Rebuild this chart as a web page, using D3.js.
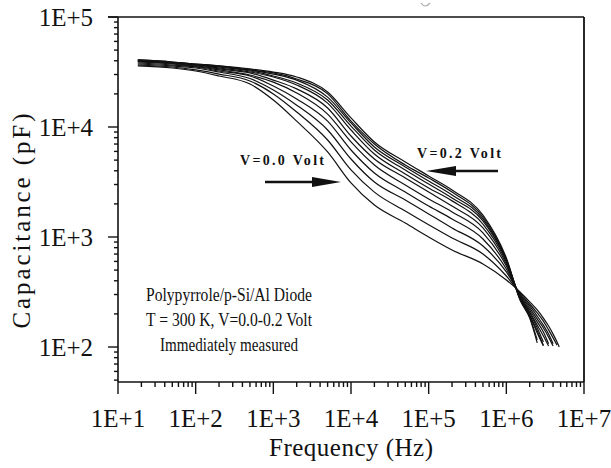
<!DOCTYPE html>
<html><head><meta charset="utf-8">
<script src="https://cdn.jsdelivr.net/npm/d3@7"></script>
<style>html,body{margin:0;padding:0;background:#fff;}svg{display:block;}</style>
</head><body>
<svg id="chart" width="611" height="468"></svg>
<script>
// ---- data ----
const freqHz = [18, 50, 100, 200, 500, 1e3, 2e3, 5e3, 1e4, 2e4, 5e4, 1e5, 2e5, 5e5, 1e6, 1.5e6, 2e6, 2.5e6, 3e6, 3.5e6, 4e6, 4.5e6, 4.8e6];
const biasVolt = [0.00, 0.02, 0.04, 0.06, 0.08, 0.10, 0.12, 0.14, 0.16, 0.18, 0.20];
const capV000 = [35900,34400,32300,29100,24600,17600,11300,5930,3100,1950,1340,1000,762,568,407,316,257,217,183,155,131,111,100];
const capV002 = [36600,35100,33000,30300,26200,20000,13700,7620,4070,2560,1720,1290,979,701,442,310,246,204,172,143,121,104,null];
const capV004 = [37400,35900,34400,31600,27600,21700,15800,9390,5120,3160,2170,1620,1210,828,481,303,236,191,158,131,107,null,null];
const capV006 = [38200,36600,35100,32300,29100,23600,18000,11300,6180,3820,2560,1910,1460,959,512,297,226,180,149,123,102,null,null];
const capV008 = [39000,37400,35500,33000,29700,25600,20400,13100,7310,4510,2970,2220,1690,1090,545,291,217,169,137,107,null,null,null];
const capV010 = [39400,37800,35900,33700,31000,26700,22200,14900,8280,5120,3440,2560,1910,1210,568,285,208,158,126,102,null,null,null];
const capV012 = [39800,38200,36600,34400,31600,28500,24100,16500,9390,5680,3740,2790,2130,1310,593,285,204,149,111,null,null,null,null];
const capV014 = [39800,38200,36600,35100,32300,29100,25100,17600,10200,6180,4070,3030,2260,1400,605,279,195,140,104,null,null,null,null];
const capV016 = [40200,38600,37000,35100,33000,30300,26700,18700,10900,6580,4330,3230,2410,1460,618,273,191,134,102,null,null,null,null];
const capV018 = [40700,39000,37400,35900,33000,31000,27300,20000,11300,7010,4510,3440,2560,1520,631,273,187,116,null,null,null,null,null];
const capV020 = [40700,39000,37400,35900,33700,31600,28500,20800,12100,7310,4810,3590,2680,1580,645,268,183,109,null,null,null,null,null];
const xTickLabels = ["1E+1","1E+2","1E+3","1E+4","1E+5","1E+6","1E+7"];
const yTickLabels = ["1E+2","1E+3","1E+4","1E+5"];
const infoLines = ["Polypyrrole/p-Si/Al Diode", "T = 300 K, V=0.0-0.2 Volt", "Immediately measured"];
const infoWidths = [166, 166, 138];

const series = [capV000,capV002,capV004,capV006,capV008,capV010,capV012,capV014,capV016,capV018,capV020];

// ---- layout ----
const L = 118, R = 584, T = 17, B = 382;
const svg = d3.select("#chart");
const FONT = "'Liberation Serif','Times New Roman',serif";

const x = d3.scaleLog().domain([10, 1e7]).range([L, R]);
const y = d3.scaleLog().domain([100, 1e5]).range([347, T]);

const ink = "#111";

// faint mark at top
svg.append("path").attr("d", "M421,3 Q425,9 430,3").attr("fill", "none").attr("stroke", "#aaa").attr("stroke-width", 1.2);

// frame
svg.append("line").attr("x1", L - 10).attr("x2", R).attr("y1", T).attr("y2", T).attr("stroke", ink).attr("stroke-width", 1.6);
svg.append("line").attr("x1", R).attr("x2", R).attr("y1", T).attr("y2", B).attr("stroke", ink).attr("stroke-width", 1.8);
svg.append("line").attr("x1", L).attr("x2", R).attr("y1", B).attr("y2", B).attr("stroke", ink).attr("stroke-width", 1.6);
svg.append("line").attr("x1", L).attr("x2", L).attr("y1", T).attr("y2", B).attr("stroke", ink).attr("stroke-width", 1.6);

// x ticks
const xAll = [];
for (let e = 1; e < 7; e++) for (let m = 1; m < 10; m++) xAll.push(m * Math.pow(10, e));
xAll.push(1e7);
svg.append("g").selectAll("line").data(xAll).join("line")
  .attr("x1", d => x(d)).attr("x2", d => x(d))
  .attr("y1", B).attr("y2", d => B + (Math.abs(Math.log10(d) - Math.round(Math.log10(d))) < 1e-9 ? 12 : 5))
  .attr("stroke", ink).attr("stroke-width", 1.4);

svg.append("g").selectAll("text").data(xTickLabels).join("text")
  .attr("x", (d, i) => x(Math.pow(10, i + 1))).attr("y", 427)
  .attr("text-anchor", "middle").attr("font-family", FONT).attr("font-size", 25).attr("fill", ink)
  .text(d => d);

// y ticks
const yAll = [];
for (let e = 1; e < 5; e++) for (let m = 1; m < 10; m++) { const v = m * Math.pow(10, e); if (y(v) <= B) yAll.push(v); }
yAll.push(1e5);
svg.append("g").selectAll("line").data(yAll).join("line")
  .attr("x1", d => L - (Math.abs(Math.log10(d) - Math.round(Math.log10(d))) < 1e-9 ? 10 : 4)).attr("x2", L)
  .attr("y1", d => y(d)).attr("y2", d => y(d))
  .attr("stroke", ink).attr("stroke-width", 1.4);

svg.append("g").selectAll("text").data(yTickLabels).join("text")
  .attr("x", 93).attr("y", (d, i) => y(Math.pow(10, i + 2)) + 9)
  .attr("text-anchor", "end").attr("font-family", FONT).attr("font-size", 25).attr("fill", ink)
  .text(d => d);

// axis titles
svg.append("text").attr("x", 351).attr("y", 456).attr("text-anchor", "middle")
  .attr("font-family", FONT).attr("font-size", 25).attr("fill", ink)
  .attr("textLength", 164).attr("lengthAdjust", "spacing").text("Frequency (Hz)");
svg.append("text").attr("transform", "translate(30,221) rotate(-90)").attr("text-anchor", "middle")
  .attr("font-family", FONT).attr("font-size", 25).attr("fill", ink)
  .attr("textLength", 215).attr("lengthAdjust", "spacing").text("Capacitance (pF)");

// curves
const line = d3.line()
  .defined(d => d[1] != null)
  .x(d => x(d[0])).y(d => y(d[1]))
  .curve(d3.curveMonotoneX);
svg.append("g").selectAll("path").data(series).join("path")
  .attr("d", s => line(freqHz.map((f, i) => [f, s[i]]).filter(p => p[1] != null)))
  .attr("fill", "none").attr("stroke", ink).attr("stroke-width", 1.2);

// info text
svg.append("g").selectAll("text").data(infoLines).join("text")
  .attr("x", 229).attr("y", (d, i) => 301 + i * 25)
  .attr("text-anchor", "middle").attr("font-family", FONT).attr("font-size", 19).attr("fill", ink)
  .attr("textLength", (d, i) => infoWidths[i]).attr("lengthAdjust", "spacingAndGlyphs")
  .text(d => d);

// voltage annotations
svg.append("text").attr("x", 240).attr("y", 165).attr("font-family", FONT).attr("font-weight", "bold")
  .attr("font-size", 14).attr("fill", ink).attr("textLength", 84).attr("lengthAdjust", "spacing")
  .text("V=" + biasVolt[0].toFixed(1) + " Volt");
svg.append("text").attr("x", 417).attr("y", 158).attr("font-family", FONT).attr("font-weight", "bold")
  .attr("font-size", 14).attr("fill", ink).attr("textLength", 84).attr("lengthAdjust", "spacing")
  .text("V=" + biasVolt[10].toFixed(1) + " Volt");

// arrows
svg.append("line").attr("x1", 265).attr("x2", 320).attr("y1", 182).attr("y2", 182).attr("stroke", ink).attr("stroke-width", 2.6);
svg.append("path").attr("d", "M312,177 L341,182 L312,187 Z").attr("fill", ink);
svg.append("line").attr("x1", 448).attr("x2", 498).attr("y1", 171).attr("y2", 171).attr("stroke", ink).attr("stroke-width", 2.6);
svg.append("path").attr("d", "M456,166 L426,171 L456,176 Z").attr("fill", ink);
</script>
</body></html>
